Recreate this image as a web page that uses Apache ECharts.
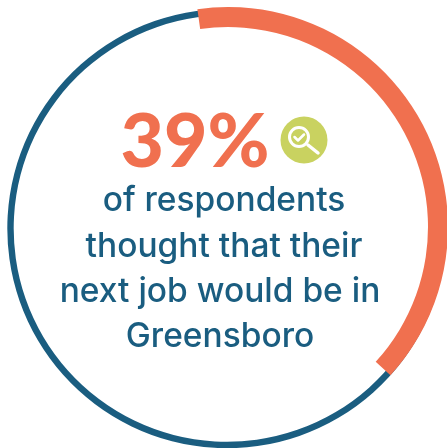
<!DOCTYPE html>
<html>
<head>
<meta charset="utf-8">
<style>html,body{margin:0;padding:0;background:#fff}#chart{width:447px;height:448px}</style>
<script src="https://cdn.jsdelivr.net/npm/echarts@6/dist/echarts.min.js"></script>
</head>
<body>
<div id="chart"></div>
<script>
// Share of respondents, in percent
const shareYes = 39;
const shareRest = 61;
const headline = '39%';
const captionLines = ['of respondents', 'thought that their', 'next job would be in', 'Greensboro'];

const ORANGE = '#f0704f';
const BLUE = '#1a5d80';
const GREEN = '#c9d260';
const startAngle = 98; // degrees, counter-clockwise from 3 o'clock
const captionX = [224, 224, 220, 220];
const captionY = [201, 247, 292, 337];

const hidden = { color: 'transparent' };
const chart = echarts.init(document.getElementById('chart'), null, { renderer: 'canvas' });

chart.setOption({
  animation: false,
  backgroundColor: '#fff',
  series: [
    // Thin full ring, the total
    {
      type: 'pie', center: [227, 228.5], radius: [213.3, 219.7], startAngle, clockwise: true,
      silent: true, label: { show: false }, labelLine: { show: false },
      data: [{ value: shareYes + shareRest, itemStyle: { color: BLUE } }]
    },
    // Thick arc on top, the share
    {
      type: 'pie', center: [228, 227], radius: [200, 220], startAngle, clockwise: true,
      silent: true, label: { show: false }, labelLine: { show: false },
      data: [
        { value: shareYes, itemStyle: { color: ORANGE } },
        { value: shareRest, itemStyle: hidden }
      ]
    }
  ],
  graphic: [
    {
      type: 'text', x: 195, y: 142.5,
      style: {
        text: headline, fill: ORANGE, align: 'center', verticalAlign: 'middle',
        font: '900 75px Lato'
      }
    },
    ...captionLines.map((line, i) => ({
      type: 'text', x: captionX[i], y: captionY[i],
      style: {
        text: line, fill: BLUE, align: 'center', verticalAlign: 'middle',
        font: '500 33.5px Inter'
      }
    })),
    // Magnifier badge
    { type: 'circle', shape: { cx: 304, cy: 140, r: 23.5 }, style: { fill: GREEN } },
    { type: 'circle', shape: { cx: 299, cy: 137, r: 9.5 }, style: { fill: 'none', stroke: '#fff', lineWidth: 3 } },
    { type: 'line', shape: { x1: 308, y1: 145, x2: 318, y2: 153 }, style: { stroke: '#fff', lineWidth: 3.5, lineCap: 'round' } },
    { type: 'polyline', shape: { points: [[294.5, 137], [298, 140.5], [304, 134.5]] }, style: { fill: 'none', stroke: '#fff', lineWidth: 2.5, lineCap: 'round', lineJoin: 'round' } }
  ]
});
</script>
</body>
</html>
